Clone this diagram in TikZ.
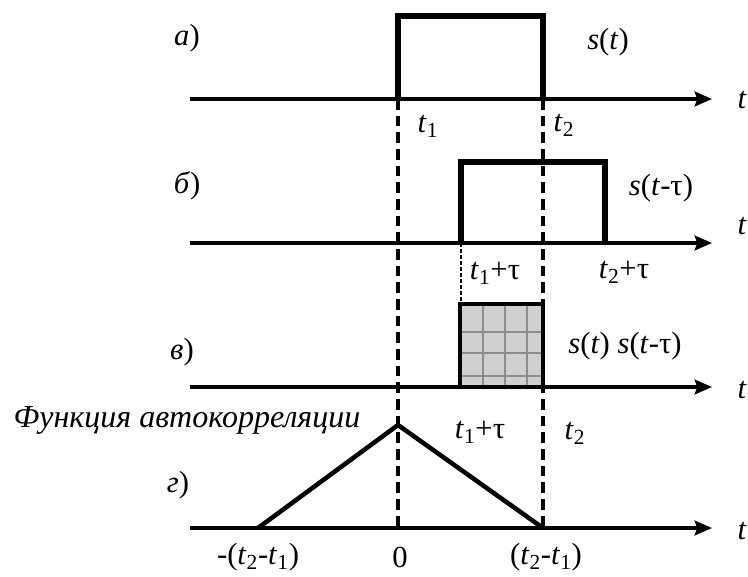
\documentclass[tikz,border=0pt]{standalone}
\usepackage{fontspec}
\setmainfont{Liberation Serif}
\usetikzlibrary{arrows.meta}
\newcommand{\ti}{\textit{t}}
\newcommand{\si}{\textit{s}}

\begin{document}
\begin{tikzpicture}[
        x=0.75pt, y=-0.75pt,
        axis/.style={line width=2.6pt, -{Stealth[length=13pt, width=11pt, inset=2pt]}},
        pulse/.style={line width=4pt, line join=miter},
        guide/.style={line width=2.4pt, dash pattern=on 8pt off 4.5pt},
        thinguide/.style={line width=1.2pt, dash pattern=on 3pt off 1.5pt},
        lbl/.style={inner sep=0pt, font=\fontsize{23}{26}\selectfont},
    ]
        \useasboundingbox (0,0) rectangle (748,576);

        % axes of the four plots
        \foreach \name/\y/\ty in {a/99/100, b/243/226, v/387/390, g/528/531} {
            \coordinate (\name0) at (190,\y);
            \coordinate (\name1) at (712,\y);
            \draw[axis] (\name0) -- (\name1);
            \node[lbl, anchor=east] (\name t) at (747,\ty) {\ti};
        }

        % guide lines
        \coordinate (t1a) at (398,99);
        \coordinate (t2a) at (543,99);
        \coordinate (t1g) at (398,528);
        \coordinate (t2g) at (543,528);
        \coordinate (ttb) at (461,243);
        \coordinate (ttv) at (461,304);
        \draw[guide] (t1a) -- (t1g);
        \draw[guide] (t2a) -- (t2g);
        \draw[thinguide] (ttb) -- (ttv);

        % a) s(t)
        \draw[pulse] (t1a) -- (398,16) -- (543,16) -- (t2a);
        \node[lbl] (la) at (187,38) {\textit{а})};
        \node[lbl] (sa) at (608,42) {\si(\ti)};
        \node[lbl] (t1) at (428,126) {\ti\textsubscript{1}};
        \node[lbl] (t2) at (564,125) {\ti\textsubscript{2}};

        % b) s(t-tau)
        \coordinate (t1b) at (461,243);
        \coordinate (t2b) at (605,243);
        \draw[pulse] (t1b) -- (461,162) -- (605,162) -- (t2b);
        \node[lbl] (lb) at (187,186) {\textit{б})};
        \node[lbl] (sb) at (661,188) {\si(\ti-τ)};
        \node[lbl] (t1tau) at (495,273) {\ti\textsubscript{1}+τ};
        \node[lbl] (t2tau) at (624,272) {\ti\textsubscript{2}+τ};

        % v) product
        \fill[black!19] (460,304) rectangle (543,387);
        \foreach \gx in {483,505,527}
            \draw[black!45, line width=1pt] (\gx,304) -- (\gx,387);
        \foreach \gy in {332,353,376}
            \draw[black!45, line width=1pt] (460,\gy) -- (543,\gy);
        \draw[line width=2.4pt] (460,304) rectangle (543,387);
        \node[lbl] (lv) at (182,352) {\textit{в})};
        \node[lbl] (sv) at (625,346) {\si(\ti) \si(\ti-τ)};

        % g) autocorrelation
        \coordinate (gl) at (258,528);
        \coordinate (gp) at (398,425);
        \coordinate (gr) at (543,528);
        \draw[line width=3.4pt, line join=miter] (gl) -- (gp) -- (gr);
        \node[lbl, font=\fontsize{24}{26}\selectfont] (acf) at (187,420) {\textit{Функция автокорреляции}};
        \node[lbl] (gt1tau) at (480,432) {\ti\textsubscript{1}+τ};
        \node[lbl] (gt2) at (575,433) {\ti\textsubscript{2}};
        \node[lbl] (lg) at (178,485) {\textit{г})};
        \node[lbl] (mneg) at (258,557) {-(\ti\textsubscript{2}-\ti\textsubscript{1})};
        \node[lbl] (zero) at (400,557) {0};
        \node[lbl] (mpos) at (546,557) {(\ti\textsubscript{2}-\ti\textsubscript{1})};
    \end{tikzpicture}
\end{document}
